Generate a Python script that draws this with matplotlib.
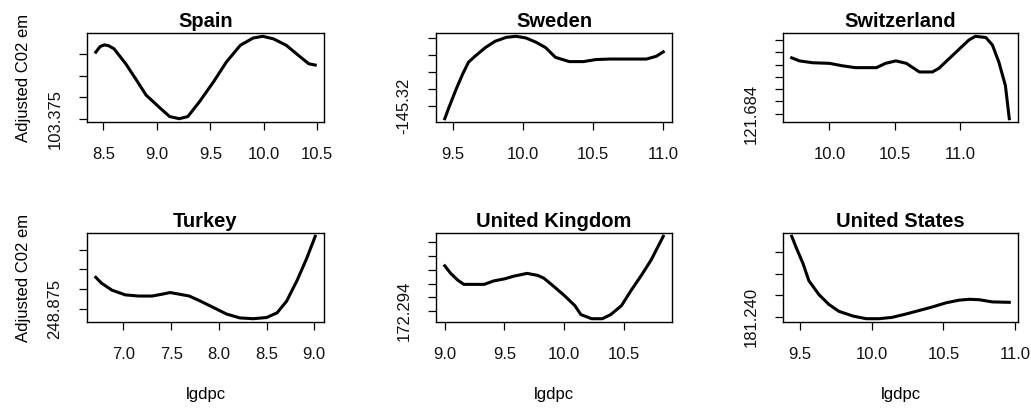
import matplotlib
matplotlib.use('Agg')
import matplotlib.pyplot as plt

plt.rcParams['font.family'] = ['Liberation Sans', 'DejaVu Sans']
plt.rcParams['font.size'] = 12

# smoothed fits per country: lgdpc (x) against adjusted CO2 emissions (y)
spain_x = [8.43, 8.47, 8.51, 8.55, 8.60, 8.71, 8.81, 8.90, 9.03, 9.12, 9.21, 9.29, 9.40,
           9.53, 9.65, 9.78, 9.90, 9.99, 10.09, 10.21, 10.34, 10.42, 10.48]
spain_y = [103.3905, 103.3918, 103.3922, 103.3920, 103.3913, 103.3878, 103.3840,
           103.3805, 103.3775, 103.3755, 103.3750, 103.3755, 103.3790, 103.3836,
           103.3882, 103.3921, 103.3938, 103.3942, 103.3936, 103.3921, 103.3894,
           103.3878, 103.3875]

sweden_x = [9.44, 9.47, 9.52, 9.57, 9.61, 9.66, 9.73, 9.80, 9.88, 9.95, 10.02,
            10.09, 10.16, 10.23, 10.33, 10.43, 10.52, 10.62, 10.71, 10.81, 10.88,
            10.95, 11.00]
sweden_y = [-145.3274, -145.3208, -145.3104, -145.3009, -145.2943, -145.2906,
            -145.2858, -145.2821, -145.2798, -145.2792, -145.2802, -145.2826,
            -145.2858, -145.2915, -145.2940, -145.2940, -145.2928, -145.2925,
            -145.2925, -145.2925, -145.2925, -145.2909, -145.2883]

swiss_x = [9.71, 9.77, 9.87, 10.00, 10.10, 10.20, 10.36, 10.43, 10.51, 10.59,
           10.69, 10.79, 10.84, 10.92, 11.00, 11.07, 11.12, 11.20, 11.25, 11.30,
           11.35, 11.38]
swiss_y = [121.6931, 121.6926, 121.6923, 121.6922, 121.6918, 121.6915, 121.6915,
           121.6922, 121.6926, 121.6922, 121.6908, 121.6908, 121.6914, 121.6930,
           121.6946, 121.6960, 121.6966, 121.6964, 121.6952, 121.6924, 121.6886,
           121.6832]

turkey_x = [6.71, 6.77, 6.88, 7.02, 7.16, 7.30, 7.41, 7.49, 7.58, 7.69, 7.79,
            7.94, 8.08, 8.22, 8.36, 8.50, 8.61, 8.71, 8.82, 8.92, 9.01]
turkey_y = [248.8830, 248.8815, 248.8797, 248.8785, 248.8782, 248.8782, 248.8787,
            248.8791, 248.8787, 248.8782, 248.8771, 248.8753, 248.8736, 248.8726,
            248.8724, 248.8727, 248.8739, 248.8769, 248.8822, 248.8878, 248.8935]

uk_x = [9.00, 9.05, 9.11, 9.16, 9.25, 9.33, 9.41, 9.50, 9.58, 9.69, 9.78, 9.83,
        9.92, 10.00, 10.09, 10.14, 10.23, 10.32, 10.39, 10.48, 10.56, 10.65,
        10.73, 10.83]
uk_y = [172.3006, 172.2995, 172.2985, 172.2979, 172.2979, 172.2979, 172.2984,
        172.2987, 172.2991, 172.2995, 172.2992, 172.2988, 172.2975, 172.2963,
        172.2948, 172.2935, 172.2929, 172.2929, 172.2935, 172.2948, 172.2970,
        172.2993, 172.3015, 172.3049]

us_x = [9.44, 9.47, 9.52, 9.56, 9.63, 9.70, 9.77, 9.87, 9.96, 10.05, 10.14,
        10.24, 10.33, 10.42, 10.52, 10.61, 10.68, 10.75, 10.84, 10.96]
us_y = [181.2587, 181.2562, 181.2523, 181.2484, 181.2452, 181.2429, 181.2413,
        181.2402, 181.2396, 181.2396, 181.2399, 181.2407, 181.2415, 181.2423,
        181.2433, 181.2439, 181.2441, 181.2440, 181.2435, 181.2434]

countries = ['Spain', 'Sweden', 'Switzerland', 'Turkey', 'United Kingdom', 'United States']
xs = [spain_x, sweden_x, swiss_x, turkey_x, uk_x, us_x]
ys = [spain_y, sweden_y, swiss_y, turkey_y, uk_y, us_y]

xticks = [[8.5, 9.0, 9.5, 10.0, 10.5],
          [9.5, 10.0, 10.5, 11.0],
          [10.0, 10.5, 11.0],
          [7.0, 7.5, 8.0, 8.5, 9.0],
          [9.0, 9.5, 10.0, 10.5],
          [9.5, 10.0, 10.5, 11.0]]

# y axis ticks: first tick, spacing, number of ticks, first label
ytick_first = [103.375, -145.32, 121.684, 248.875, 172.294, 181.240]
ytick_step = [0.005, 0.01, 0.002, 0.005, 0.002, 0.005]
ytick_count = [4, 5, 7, 4, 6, 4]
ytick_label = ['103.375', '-145.32', '121.684', '248.875', '172.294', '181.240']

W, H = 1031, 408
fig = plt.figure(figsize=(W / 100, H / 100), dpi=100)

# panel boxes in pixels: left, right, top, bottom
cols = [(87, 324), (436, 672), (783, 1018)]
rows = [(33, 122), (233, 322)]

for i, name in enumerate(countries):
    r, c = divmod(i, 3)
    l, rt = cols[c]
    t, b = rows[r]
    ax = fig.add_axes([l / W, 1 - b / H, (rt - l) / W, (b - t) / H])
    ax.plot(xs[i], ys[i], color='black', lw=2.2, solid_joinstyle='round')
    ax.margins(x=0.04, y=0.04)

    ax.set_xticks(xticks[i], ['%.1f' % v for v in xticks[i]])
    yt = [ytick_first[i] + k * ytick_step[i] for k in range(ytick_count[i])]
    ax.set_yticks(yt, [ytick_label[i]] + [''] * (len(yt) - 1))

    ax.tick_params(axis='both', length=5.5, width=0.9, color='black',
                   labelsize=12, labelcolor='#111111')
    ax.tick_params(axis='x', pad=12.5)
    ax.tick_params(axis='y', pad=17.5)
    for lab in ax.get_yticklabels():
        lab.set_rotation(90)
        lab.set_va('center')
        lab.set_ha('center')
        lab.set_rotation_mode('anchor')
    for sp in ax.spines.values():
        sp.set_linewidth(1.0)

    ax.set_title(name, fontsize=14.5, fontweight='bold', pad=4)
    if c == 0:
        ax.set_ylabel('Adjusted C02 em', fontsize=12, labelpad=12)
    if r == 1:
        ax.set_xlabel('lgdpc', fontsize=12, labelpad=18)

plt.savefig('out.png', dpi=100)
